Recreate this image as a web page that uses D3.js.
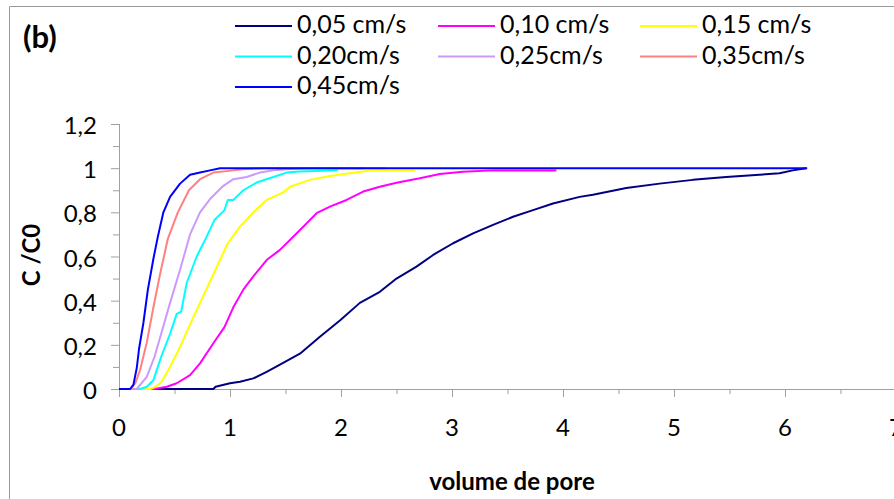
<!DOCTYPE html>
<html>
<head>
<meta charset="utf-8">
<script src="https://cdn.jsdelivr.net/npm/d3@7"></script>
<style>
  html, body { margin: 0; padding: 0; background: #fff; }
  svg { display: block; font-family: Lato, "Open Sans", sans-serif; }
</style>
</head>
<body>
<svg id="chart" width="894" height="499"></svg>
<script>
// ---- data ----
const seriesLabels = ["0,05 cm/s", "0,10 cm/s", "0,15 cm/s", "0,20cm/s", "0,25cm/s", "0,35cm/s", "0,45cm/s"];
const xTicks = [0, 1, 2, 3, 4, 5, 6, 7];
const yTicks = [0, 0.2, 0.4, 0.6, 0.8, 1, 1.2];

const s005 = [[0,0],[0.85,0],[0.87,0.01],[1.0,0.026],[1.09,0.033],[1.21,0.048],[1.33,0.078],[1.45,0.11],[1.63,0.16],[1.81,0.237],[1.99,0.31],[2.17,0.39],[2.35,0.44],[2.50,0.50],[2.68,0.554],[2.83,0.607],[3.01,0.66],[3.19,0.705],[3.37,0.743],[3.55,0.78],[3.73,0.81],[3.91,0.84],[4.15,0.87],[4.27,0.88],[4.57,0.91],[4.87,0.93],[5.17,0.947],[5.47,0.96],[5.77,0.97],[5.95,0.977],[6.07,0.99],[6.19,1.0]];
const s010 = [[0,0],[0.32,0],[0.43,0.01],[0.52,0.026],[0.64,0.063],[0.73,0.116],[0.85,0.207],[0.95,0.28],[1.03,0.37],[1.12,0.45],[1.21,0.51],[1.33,0.584],[1.45,0.63],[1.54,0.675],[1.66,0.735],[1.78,0.796],[1.90,0.826],[2.05,0.856],[2.20,0.894],[2.35,0.916],[2.50,0.934],[2.71,0.954],[2.89,0.974],[3.10,0.984],[3.37,0.99],[3.94,0.99]];
const s015 = [[0,0],[0.28,0],[0.33,0.01],[0.38,0.03],[0.46,0.10],[0.55,0.19],[0.62,0.27],[0.73,0.39],[0.86,0.53],[0.98,0.66],[1.09,0.735],[1.21,0.80],[1.33,0.856],[1.48,0.89],[1.54,0.916],[1.72,0.947],[1.90,0.965],[2.08,0.977],[2.26,0.989],[2.67,0.99]];
const s020 = [[0,0],[0.19,0],[0.25,0.01],[0.31,0.04],[0.38,0.146],[0.46,0.25],[0.52,0.34],[0.56,0.35],[0.61,0.48],[0.70,0.60],[0.79,0.69],[0.86,0.765],[0.95,0.81],[0.98,0.856],[1.03,0.856],[1.12,0.90],[1.24,0.935],[1.39,0.96],[1.51,0.98],[1.63,0.985],[1.97,0.99]];
const s025 = [[0,0],[0.16,0],[0.25,0.055],[0.32,0.146],[0.38,0.25],[0.46,0.39],[0.55,0.54],[0.64,0.70],[0.73,0.80],[0.82,0.86],[0.94,0.92],[1.03,0.95],[1.15,0.96],[1.27,0.98],[1.39,0.99],[1.51,0.995],[1.7,1.0],[2.4,1.0]];
const s035 = [[0,0],[0.11,0],[0.15,0.03],[0.19,0.086],[0.25,0.21],[0.31,0.37],[0.37,0.52],[0.44,0.68],[0.53,0.80],[0.63,0.90],[0.73,0.95],[0.85,0.98],[1.03,0.99],[1.12,0.995],[1.3,1.0],[2.2,1.0]];
const s045 = [[0,0],[0.10,0],[0.13,0.02],[0.16,0.095],[0.18,0.18],[0.22,0.30],[0.26,0.45],[0.31,0.59],[0.35,0.69],[0.40,0.80],[0.46,0.87],[0.55,0.93],[0.64,0.97],[0.73,0.98],[0.82,0.99],[0.91,1.0],[6.2,1.0]];
const seriesData = [s005, s010, s015, s020, s025, s035, s045];

// ---- styles ----
const colors = ["#000080", "#FF00FF", "#FFFF00", "#00FFFF", "#CC99FF", "#FF8080", "#0000FF"];
const axisColor = "#A0A0A0";

const svg = d3.select("#chart");

// outer frame
svg.append("path")
  .attr("d", "M9.5,499 L9.5,6.5 L894,6.5")
  .attr("fill", "none").attr("stroke", "#9a9a9a").attr("stroke-width", 1);

const x = d3.scaleLinear().domain([0, 7]).range([119, 896]);
const y = d3.scaleLinear().domain([0, 1.2]).range([389, 124]);

const fmt = d => String(d).replace(".", ",");

// y axis
const yAxis = svg.append("g").attr("transform", `translate(${x(0)},0)`);
yAxis.call(d3.axisLeft(y).tickValues(d3.range(0, 1.2001, 0.1)).tickSize(6).tickFormat(""));
yAxis.call(g => g.select(".domain").remove());
yAxis.selectAll("line").attr("stroke", axisColor);
svg.append("line").attr("x1", x(0) + 0.5).attr("x2", x(0) + 0.5).attr("y1", y(1.2)).attr("y2", y(0))
  .attr("stroke", axisColor);
svg.append("g").selectAll("text").data(yTicks).join("text")
  .attr("x", 97).attr("y", d => y(d) + 4)
  .attr("text-anchor", "end").attr("dominant-baseline", "middle")
  .attr("font-size", 24).attr("fill", "#000").text(fmt);

// x axis
const xAxis = svg.append("g").attr("transform", `translate(0,${y(0)})`);
xAxis.call(d3.axisBottom(x).tickValues(d3.range(0, 7.001, 0.5)).tickSize(6).tickFormat(""));
xAxis.call(g => g.select(".domain").remove());
xAxis.selectAll("line").attr("stroke", axisColor);
xAxis.selectAll(".tick line").attr("y2", (d) => Math.abs(d - Math.round(d)) < 1e-6 ? 8 : 5);
yAxis.selectAll(".tick line").attr("x2", (d) => Math.abs(d * 5 - Math.round(d * 5)) < 1e-6 ? -8 : -6);
svg.append("line").attr("x1", x(0)).attr("x2", 894).attr("y1", y(0) + 0.5).attr("y2", y(0) + 0.5)
  .attr("stroke", axisColor);
svg.append("g").selectAll("text").data(xTicks).join("text")
  .attr("x", d => x(d)).attr("y", 430)
  .attr("text-anchor", "middle").attr("dominant-baseline", "middle")
  .attr("font-size", 24).attr("fill", "#000").text(fmt);

// curves
const line = d3.line().x(d => x(d[0])).y(d => y(d[1]));
svg.append("g").selectAll("path").data(seriesData).join("path")
  .attr("d", line)
  .attr("fill", "none")
  .attr("stroke", (d, i) => colors[i])
  .attr("stroke-width", 2)
  .attr("stroke-linejoin", "round");

// axis titles
svg.append("text").attr("transform", "translate(40,255) rotate(-90)")
  .attr("text-anchor", "middle").attr("font-weight", "bold").attr("font-size", 24)
  .text("C /C0");
svg.append("text").attr("x", 512).attr("y", 490)
  .attr("text-anchor", "middle").attr("font-weight", "bold").attr("font-size", 24)
  .text("volume de pore");

// panel label
svg.append("text").attr("x", 23).attr("y", 48)
  .attr("font-weight", "bold").attr("font-size", 31).text("(b)");

// legend
const legX = [235, 438, 640];
const legY = [26, 56.5, 87];
const leg = svg.append("g").selectAll("g").data(seriesLabels).join("g")
  .attr("transform", (d, i) => `translate(${legX[i % 3]},${legY[Math.floor(i / 3)]})`);
leg.append("line").attr("x1", 0).attr("x2", 57).attr("y1", 0).attr("y2", 0)
  .attr("stroke", (d, i) => colors[i]).attr("stroke-width", 1.8);
leg.append("text").attr("x", 62).attr("y", 1).attr("dominant-baseline", "middle")
  .attr("font-size", 25).text(d => d);
</script>
</body>
</html>
